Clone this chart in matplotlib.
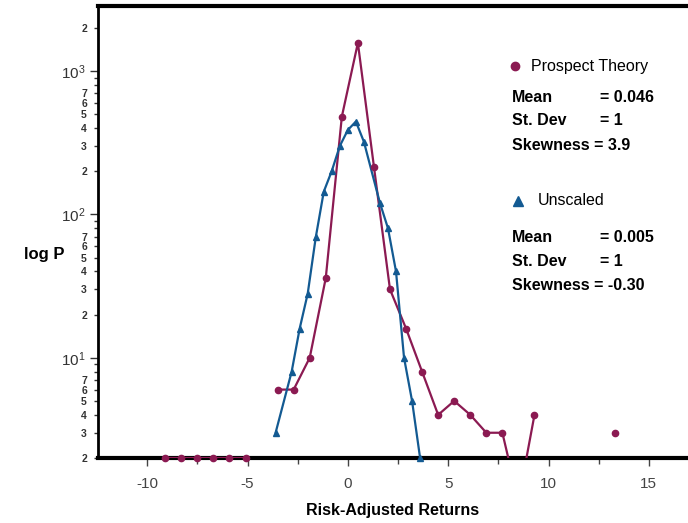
import numpy as np
import matplotlib.pyplot as plt
from matplotlib.ticker import FixedLocator, FixedFormatter, MultipleLocator

plt.rcParams['font.family'] = ['Liberation Sans', 'DejaVu Sans']
plt.rcParams['mathtext.fontset'] = 'custom'
plt.rcParams['mathtext.rm'] = 'Liberation Sans'
plt.rcParams['mathtext.default'] = 'regular'
plt.rcParams['axes.unicode_minus'] = False

# Prospect Theory (binned returns, NaN = empty bin)
pt_x = [-9.1, -8.3, -7.5, -6.7, -5.9, -5.1, -4.3, -3.5, -2.7, -1.9, -1.1, -0.3, 0.5, 1.3,
        2.1, 2.9, 3.7, 4.5, 5.3, 6.1, 6.9, 7.7, 8.5, 9.3, 10.1, 10.9, 11.7, 12.5, 13.3]
pt_p = [2, 2, 2, 2, 2, 2, np.nan, 6, 6, 10, 36, 480, 1570, 215,
        30, 16, 8, 4, 5, 4, 3, 3, 1, 4, np.nan, np.nan, np.nan, np.nan, 3]

# Unscaled
un_x = [-3.6, -2.8, -2.4, -2.0, -1.6, -1.2, -0.8, -0.4, 0.0, 0.4, 0.8,
        1.6, 2.0, 2.4, 2.8, 3.2, 3.6]
un_p = [3, 8, 16, 28, 69, 144, 201, 300, 388, 444, 321,
        120, 80, 40, 10, 5, 2]

purple = '#8B1A52'
blue = '#135A92'

fig = plt.figure(figsize=(6.88, 5.23), dpi=100)
ax = fig.add_axes([98/688, 1-458/523, 1-98/688, (458-6)/523])

ymin = 2
pt_marks = [i for i, v in enumerate(pt_p) if v >= ymin]
un_marks = [i for i, v in enumerate(un_p) if v >= ymin]

# lines (clipped to the axes, drawn over the spine)
ax.plot(pt_x, pt_p, color=purple, lw=1.6, zorder=3)
ax.plot(un_x, un_p, color=blue, lw=1.6, zorder=3)
# markers (not clipped so points on the bottom edge stay visible)
ax.plot(pt_x, pt_p, color=purple, ls='none', marker='o', ms=4.5, markevery=pt_marks,
        clip_on=False, zorder=4)
ax.plot(un_x, un_p, color=blue, ls='none', marker='^', ms=5, markevery=un_marks,
        clip_on=False, zorder=4)

ax.set_yscale('log')
ax.set_ylim(ymin, 2840)
ax.set_xlim(-12.45, 16.95)

# y ticks
ax.yaxis.set_major_locator(FixedLocator([10, 100, 1000]))
ax.yaxis.set_major_formatter(FixedFormatter(['$10^1$', '$10^2$', '$10^3$']))
minor_vals = []
minor_labels = []
for dec in [1, 10, 100, 1000]:
    for m in range(2, 10):
        v = m * dec
        if 2 <= v <= 2840:
            minor_vals.append(v)
            minor_labels.append(str(m) if m <= 7 else '')
ax.yaxis.set_minor_locator(FixedLocator(minor_vals))
ax.yaxis.set_minor_formatter(FixedFormatter(minor_labels))
ax.tick_params(axis='y', which='major', length=6, width=1, labelsize=11, colors='#333333', pad=3)
ax.tick_params(axis='y', which='minor', length=3, width=1, labelsize=7.5, colors='#333333', pad=5)
for lab in ax.get_yticklabels(which='minor'):
    lab.set_fontweight('bold')

# x ticks
ax.xaxis.set_major_locator(MultipleLocator(5))
ax.xaxis.set_minor_locator(MultipleLocator(2.5))
ax.tick_params(axis='x', which='major', length=6, width=1, labelsize=11, colors='#444444', pad=8)
ax.tick_params(axis='x', which='minor', length=4, width=1, colors='#444444')

for s in ['top', 'bottom']:
    ax.spines[s].set_linewidth(3)
ax.spines['left'].set_linewidth(2)
ax.spines['right'].set_visible(False)

ax.set_xlabel('Risk-Adjusted Returns', fontsize=11.5, fontweight='bold', labelpad=8)
fig.text(24/688, 1-255/523, 'log P', fontsize=12, fontweight='bold', va='center', ha='left')

# legend / statistics
def fx(px):
    return px / 688

def fy(py):
    return 1 - py / 523

fig.lines.append(plt.Line2D([fx(515)], [fy(66)], transform=fig.transFigure,
                            marker='o', ms=6, color=purple, ls='none'))
fig.text(fx(531), fy(66), 'Prospect Theory', fontsize=11.5, va='center')
fig.lines.append(plt.Line2D([fx(518)], [fy(201)], transform=fig.transFigure,
                            marker='^', ms=7, color=blue, ls='none'))
fig.text(fx(538), fy(201), 'Unscaled', fontsize=11.5, va='center')

stats = [(97, 'Mean', '= 0.046'), (121, 'St. Dev', '= 1'), (145, 'Skewness = 3.9', ''),
         (237, 'Mean', '= 0.005'), (262, 'St. Dev', '= 1'), (286, 'Skewness = -0.30', '')]
for yy, lab, val in stats:
    fig.text(fx(512), fy(yy), lab, fontsize=11.5, fontweight='bold', va='center')
    if val:
        fig.text(fx(600), fy(yy), val, fontsize=11.5, fontweight='bold', va='center')

fig.savefig('out.png', dpi=100)
